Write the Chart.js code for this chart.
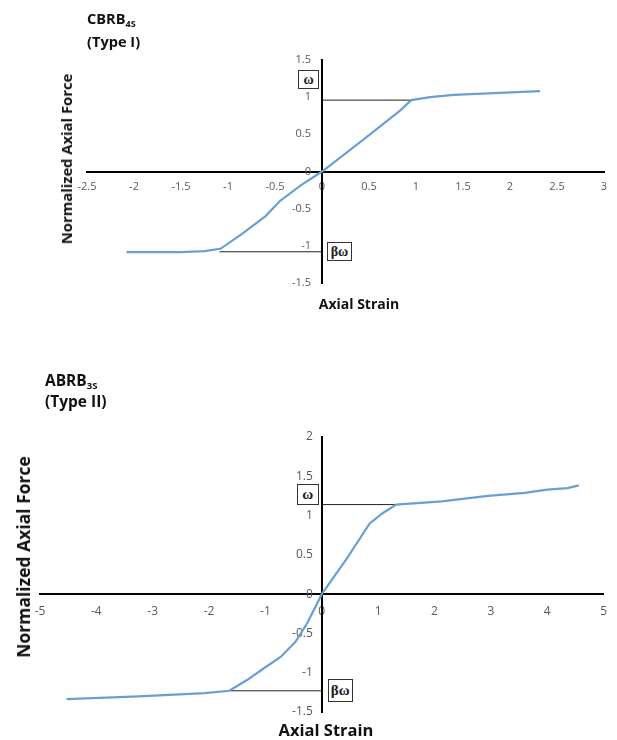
<!DOCTYPE html>
<html>
<head>
<meta charset="utf-8">
<script src="https://cdn.jsdelivr.net/npm/chart.js@4/dist/chart.umd.min.js"></script>
<style>
  html, body { margin: 0; padding: 0; background: #fff; }
  body { width: 617px; height: 740px; position: relative; overflow: hidden; font-family: "Open Sans", Lato, sans-serif; }
  .cv { position: absolute; left: 0; width: 617px; height: 370px; }
  #c1 { top: 0; }
  #c2 { top: 370px; }
  .t { position: absolute; font-weight: bold; color: #111; white-space: nowrap; }
  .t sub { font-size: 0.62em; vertical-align: -0.3em; line-height: 0; }
  .ytitle { transform: translate(-50%, -50%) rotate(-90deg); }
  .xtitle { transform: translate(-50%, -50%); }
  .box { position: absolute; border: 1px solid #333; background: #fff; font-family: "Liberation Serif", "DejaVu Serif", serif; font-weight: bold; color: #222; text-align: center; box-sizing: border-box; }
</style>
</head>
<body>
<canvas id="c1" class="cv" width="617" height="370"></canvas>
<canvas id="c2" class="cv" width="617" height="370"></canvas>

<div class="t" style="left:87px; top:7px; font-size:14.6px; line-height:23px;">CBRB<sub>4S</sub><br>(Type I)</div>
<div class="t ytitle" style="left:66px; top:159px; font-size:14.8px;">Normalized Axial Force</div>
<div class="t xtitle" style="left:359px; top:303px; font-size:14px;">Axial Strain</div>

<div class="t" style="left:45px; top:370px; font-size:15.5px; line-height:21px;">ABRB<sub>3S</sub><br>(Type II)</div>
<div class="t ytitle" style="left:23px; top:557px; font-size:17.5px;">Normalized Axial Force</div>
<div class="t xtitle" style="left:326px; top:729px; font-size:16.5px;">Axial Strain</div>

<div id="w1" class="box" style="width:21px; height:19px; font-size:14px; line-height:17px;">ω</div>
<div id="bw1" class="box" style="width:25px; height:19px; font-size:14px; line-height:17px;">βω</div>
<div id="w2" class="box" style="width:22px; height:21px; font-size:15px; line-height:19px;">ω</div>
<div id="bw2" class="box" style="width:25px; height:23px; font-size:15px; line-height:21px;">βω</div>

<script>
// ---------- Data: chart 1 (CBRB4S, Type I) ----------
const strain1 = [-2.08, -1.5, -1.25, -1.08, -0.84, -0.6, -0.45, -0.23, 0, 0.44, 0.83, 0.95, 1.15, 1.4, 2.32];
const force1  = [-1.085, -1.085, -1.07, -1.04, -0.83, -0.6, -0.4, -0.19, 0, 0.43, 0.82, 0.96, 1.0, 1.03, 1.08];
const omega1 = 0.96, omega1Strain = 0.95;
const betaOmega1 = -1.08, betaOmega1Strain = -1.09;
const xTicks1 = [-2.5, -2, -1.5, -1, -0.5, 0, 0.5, 1, 1.5, 2, 2.5, 3];
const yTicks1 = [-1.5, -1, -0.5, 0, 0.5, 1, 1.5];

// ---------- Data: chart 2 (ABRB3S, Type II) ----------
const strain2 = [-4.53, -3.25, -2.08, -1.64, -1.32, -1.02, -0.73, -0.47, -0.26, 0, 0.44, 0.85, 1.08, 1.32, 2.13, 2.95, 3.6, 4.0, 4.36, 4.56];
const force2  = [-1.335, -1.30, -1.26, -1.23, -1.09, -0.94, -0.80, -0.61, -0.37, 0, 0.45, 0.90, 1.03, 1.14, 1.18, 1.25, 1.29, 1.33, 1.35, 1.385];
const omega2 = 1.14, omega2Strain = 1.32;
const betaOmega2 = -1.23, betaOmega2Strain = -1.64;
const xTicks2 = [-5, -4, -3, -2, -1, 0, 1, 2, 3, 4, 5];
const yTicks2 = [-1.5, -1, -0.5, 0, 0.5, 1, 1.5, 2];

function pts(xs, ys) { return xs.map((x, i) => ({x: x, y: ys[i]})); }

function makeChart(id, cfg) {
  const ctx = document.getElementById(id);
  const tickFont = {family: '"Open Sans", Lato, sans-serif', size: cfg.tickSize};
  return new Chart(ctx, {
    type: 'scatter',
    data: {
      datasets: [
        { data: pts(cfg.xs, cfg.ys), showLine: true, borderColor: '#6a9fd3', borderWidth: 2.2, pointRadius: 0, tension: 0, order: 1 },
        { data: [{x: 0, y: cfg.w}, {x: cfg.wx, y: cfg.w}], showLine: true, borderColor: '#222', borderWidth: 1, pointRadius: 0, order: 2 },
        { data: [{x: cfg.bwx, y: cfg.bw}, {x: 0, y: cfg.bw}], showLine: true, borderColor: '#222', borderWidth: 1, pointRadius: 0, order: 2 }
      ]
    },
    options: {
      responsive: false,
      animation: false,
      devicePixelRatio: 1,
      layout: { padding: cfg.pad },
      plugins: { legend: { display: false }, tooltip: { enabled: false } },
      scales: {
        x: {
          type: 'linear', min: cfg.xTicks[0], max: cfg.xTicks[cfg.xTicks.length - 1],
          position: { y: 0 },
          grid: { display: false, drawTicks: false },
          border: { display: true, color: '#000', width: 2 },
          afterBuildTicks: s => { s.ticks = cfg.xTicks.map(v => ({value: v})); },
          afterFit: s => { s.height = 0; },
          ticks: { color: '#595959', font: tickFont, padding: cfg.xPad, maxRotation: 0, autoSkip: false, callback: v => String(v) }
        },
        y: {
          type: 'linear', min: cfg.yTicks[0], max: cfg.yTicks[cfg.yTicks.length - 1],
          position: { x: 0 },
          grid: { display: false, drawTicks: false },
          border: { display: true, color: '#000', width: 2 },
          afterBuildTicks: s => { s.ticks = cfg.yTicks.map(v => ({value: v})); },
          afterFit: s => { s.width = 0; },
          ticks: { color: '#595959', font: tickFont, autoSkip: false, callback: v => String(v) }
        }
      }
    },
    plugins: [{
      id: 'yLabelGap',
      beforeDraw(chart) {
        const ys = chart.scales.y;
        if (ys && !ys._gapPatched) {
          const orig = ys.drawLabels.bind(ys);
          ys.drawLabels = function (area) {
            const c = ys.ctx; c.save(); c.translate(-cfg.yPad, 0); orig(area); c.restore();
          };
          ys._gapPatched = true;
        }
      }
    }, {
      id: 'boxes',
      afterRender(chart) {
        const xs = chart.scales.x, ys = chart.scales.y;
        const top = chart.canvas.offsetTop;
        const ax = xs.getPixelForValue(0);
        const w = document.getElementById(cfg.wBox);
        const b = document.getElementById(cfg.bwBox);
        w.style.left = (ax - 3 - w.offsetWidth) + 'px';
        w.style.top = (top + ys.getPixelForValue(cfg.w) - cfg.wLift - w.offsetHeight / 2) + 'px';
        b.style.left = (ax + cfg.bwGap) + 'px';
        b.style.top = (top + ys.getPixelForValue(cfg.bw) - b.offsetHeight / 2) + 'px';
      }
    }]
  });
}

makeChart('c1', {
  xs: strain1, ys: force1, w: omega1, wx: omega1Strain, bw: betaOmega1, bwx: betaOmega1Strain,
  xTicks: xTicks1, yTicks: yTicks1, tickSize: 11, xPad: 9, yPad: 11,
  pad: { left: 87, right: 13, top: 60, bottom: 87 },
  wBox: 'w1', bwBox: 'bw1', wLift: 21, bwGap: 5
});
makeChart('c2', {
  xs: strain2, ys: force2, w: omega2, wx: omega2Strain, bw: betaOmega2, bwx: betaOmega2Strain,
  xTicks: xTicks2, yTicks: yTicks2, tickSize: 12, xPad: 10, yPad: 9,
  pad: { left: 40, right: 7, top: 67, bottom: 28 },
  wBox: 'w2', bwBox: 'bw2', wLift: 10, bwGap: 6
});
</script>
</body>
</html>
